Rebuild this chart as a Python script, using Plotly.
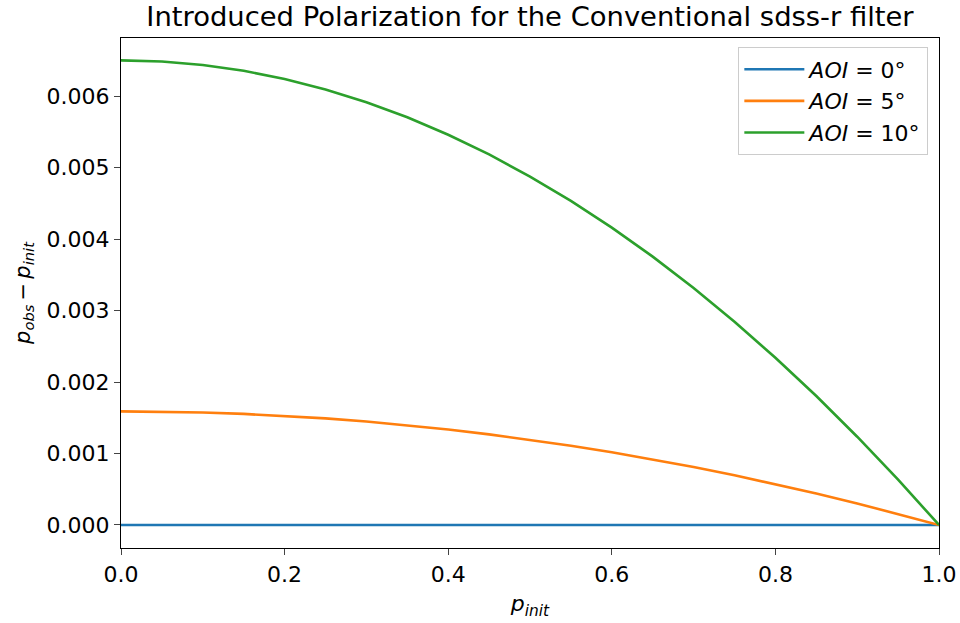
import plotly.graph_objects as go

p_init = [0.0, 0.05, 0.1, 0.15, 0.2, 0.25, 0.3, 0.35, 0.4, 0.45, 0.5,
          0.55, 0.6, 0.65, 0.7, 0.75, 0.8, 0.85, 0.9, 0.95, 1.0]
aoi0 = [0.0] * 21
aoi5 = [0.001590, 0.001586, 0.001574, 0.001554, 0.001526, 0.001491, 0.001447, 0.001395,
        0.001336, 0.001268, 0.001193, 0.001109, 0.001018, 0.000918, 0.000811, 0.000696,
        0.000572, 0.000441, 0.000302, 0.000155, 0.0]
aoi10 = [0.006500, 0.006484, 0.006435, 0.006354, 0.006240, 0.006094, 0.005915, 0.005704,
         0.005460, 0.005184, 0.004875, 0.004534, 0.004160, 0.003754, 0.003315, 0.002844,
         0.002340, 0.001804, 0.001235, 0.000634, 0.0]
names = ["<i>AOI</i> = 0°", "<i>AOI</i> = 5°", "<i>AOI</i> = 10°"]
colors = ["#1f77b4", "#ff7f0e", "#2ca02c"]

fig = go.Figure()
for ys, n, c in zip([aoi0, aoi5, aoi10], names, colors):
    fig.add_trace(go.Scatter(x=p_init, y=ys, mode="lines", name=n,
                             line=dict(color=c, width=2.6)))

font = "DejaVu Sans"
fig.update_layout(
    width=960, height=623,
    margin=dict(l=121, r=21, t=38, b=75),
    paper_bgcolor="white", plot_bgcolor="white",
    font=dict(family=font, size=22, color="black"),
    title=dict(text="Introduced Polarization for the Conventional sdss-r filter",
               x=0.5, xref="paper", xanchor="center", y=1 - 16 / 623, yref="container",
               yanchor="middle", font=dict(size=27.4)),
    showlegend=True,
    legend=dict(x=0.9866, y=0.982, xanchor="right", yanchor="top",
                bgcolor="rgba(255,255,255,0.8)", bordercolor="#cccccc", borderwidth=1.3,
                font=dict(size=22), tracegroupgap=0, itemwidth=60),
    xaxis=dict(range=[0, 1], tickvals=[0, 0.2, 0.4, 0.6, 0.8, 1.0],
               ticktext=["0.0", "0.2", "0.4", "0.6", "0.8", "1.0"],
               showgrid=False, zeroline=False, showline=True, linecolor="black",
               linewidth=1.3, mirror=True, ticks="outside", ticklen=6, tickwidth=1.3,
               automargin=False,
               title=dict(text="<i>p</i><sub><i>init</i></sub>", standoff=10,
                          font=dict(size=22))),
    yaxis=dict(range=[-0.000322, 0.006813],
               tickvals=[0, 0.001, 0.002, 0.003, 0.004, 0.005, 0.006],
               ticktext=["0.000", "0.001", "0.002", "0.003", "0.004", "0.005", "0.006"],
               showgrid=False, zeroline=False, showline=True, linecolor="black",
               linewidth=1.3, mirror=True, ticks="outside", ticklen=6, tickwidth=1.3,
               automargin=False,
               title=dict(text="<i>p</i><sub><i>obs</i></sub>\u2009−\u2009<i>p</i><sub><i>init</i></sub>",
                          standoff=10, font=dict(size=21))),
)
fig.write_html("out.html")
